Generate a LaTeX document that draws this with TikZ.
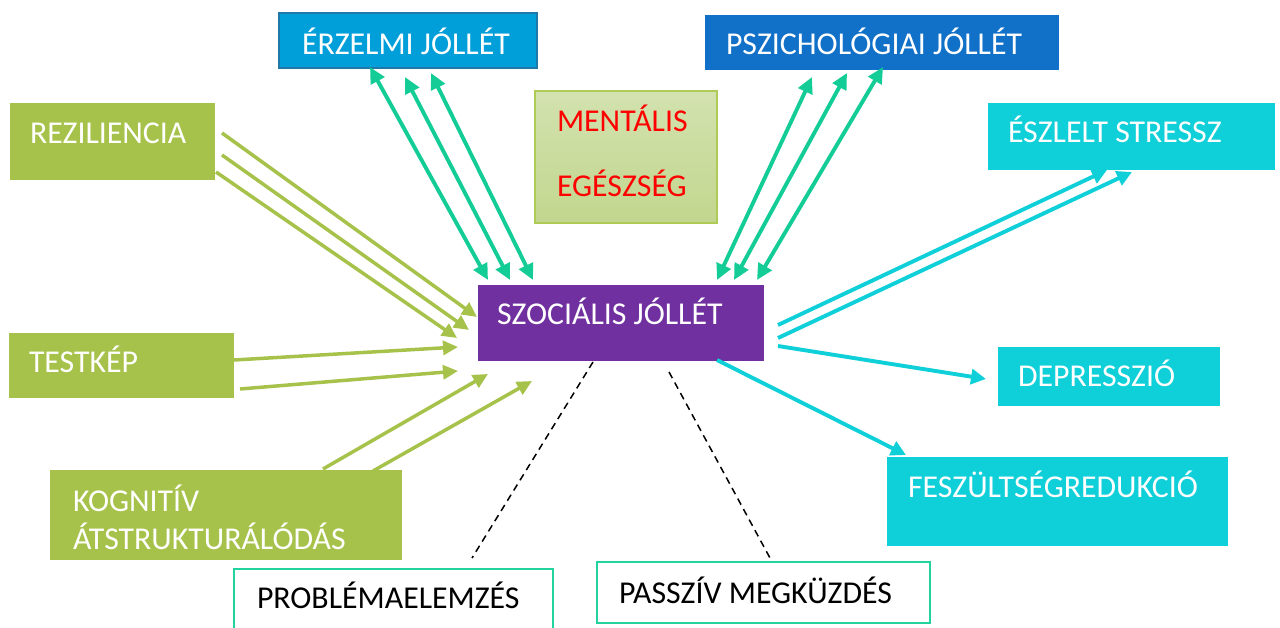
\documentclass[tikz,border=0pt]{standalone}
\usepackage{fontspec}
\setmainfont{Carlito}
\usetikzlibrary{arrows.meta}
\definecolor{erzfill}{HTML}{009FD9}
\definecolor{erzline}{HTML}{1E78A8}
\definecolor{pszfill}{HTML}{1170C7}
\definecolor{lime}{HTML}{A6C24A}
\definecolor{menttop}{HTML}{D3E2AF}
\definecolor{mentbot}{HTML}{C2D68E}
\definecolor{mentline}{HTML}{AECB55}
\definecolor{purp}{HTML}{7030A0}
\definecolor{cyanb}{HTML}{0FCFD9}
\definecolor{tealarr}{HTML}{14CC96}
\definecolor{tealbox}{HTML}{22D3A0}
\begin{document}
\begin{tikzpicture}[x=1pt,y=-1pt,
  box/.style={rectangle, inner sep=0pt, outer sep=0pt, anchor=north west},
  lbl/.style={anchor=base west, inner sep=0pt, outer sep=0pt, font=\fontsize{31.8}{38}\selectfont, text=white},
  blbl/.style={lbl, text=black},
  rlbl/.style={lbl, text=red},
  dblarr/.style={draw=tealarr, line width=3.9pt, {Triangle[length=16pt,width=15pt]}-{Triangle[length=16pt,width=15pt]}},
  limearr/.style={draw=lime, line width=3.5pt, -{Triangle[length=15pt,width=14pt]}},
  cyanarr/.style={draw=cyanb, line width=3.9pt, -{Triangle[length=15pt,width=15pt]}},
  dashln/.style={draw=black, line width=1.5pt, dash pattern=on 7pt off 5pt}
]
\useasboundingbox (0,0) rectangle (1280,628);

% boxes
\node[box, fill=erzfill, draw=erzline, line width=1.5pt, minimum width=258, minimum height=55] (erz) at (279,13) {};
\node[lbl] (erzT) at (302,55) {ÉRZELMI JÓLLÉT};
\node[box, fill=pszfill, minimum width=354, minimum height=55] (psz) at (705,15) {};
\node[lbl] (pszT) at (726,55) {PSZICHOLÓGIAI JÓLLÉT};
\node[box, top color=menttop, bottom color=mentbot, draw=mentline, line width=1.2pt, minimum width=182, minimum height=132] (ment) at (535,91) {};
\node[rlbl] (mentT1) at (557,132) {MENTÁLIS};
\node[rlbl] (mentT2) at (557,197) {EGÉSZSÉG};
\node[box, fill=lime, minimum width=205, minimum height=77] (rez) at (10,103) {};
\node[lbl] (rezT) at (30,144) {REZILIENCIA};
\node[box, fill=lime, minimum width=225, minimum height=65] (test) at (9,333) {};
\node[lbl] (testT) at (29,373) {TESTKÉP};
\node[box, fill=lime, minimum width=352, minimum height=90] (kogn) at (50,470) {};
\node[lbl] (kognT1) at (73,511) {KOGNITÍV};
\node[lbl] (kognT2) at (73,549) {ÁTSTRUKTURÁLÓDÁS};
\node[box, fill=purp, minimum width=286, minimum height=76] (szoc) at (478,285) {};
\node[lbl] (szocT) at (497,325) {SZOCIÁLIS JÓLLÉT};
\node[box, fill=cyanb, minimum width=287, minimum height=67] (eszl) at (988,103) {};
\node[lbl] (eszlT) at (1008,143) {ÉSZLELT STRESSZ};
\node[box, fill=cyanb, minimum width=222, minimum height=59] (dep) at (998,347) {};
\node[lbl] (depT) at (1018,386) {DEPRESSZIÓ};
\node[box, fill=cyanb, minimum width=341, minimum height=89] (fesz) at (887,457) {};
\node[lbl] (feszT) at (908,497) {FESZÜLTSÉGREDUKCIÓ};
\node[box, fill=white, draw=tealbox, line width=2pt, minimum width=319, minimum height=80] (prob) at (234,569) {};
\node[blbl] (probT) at (257,608) {PROBLÉMAELEMZÉS};
\node[box, fill=white, draw=tealbox, line width=2pt, minimum width=333, minimum height=61] (pass) at (597,562) {};
\node[blbl] (passT) at (619,603) {PASSZÍV MEGKÜZDÉS};

% connector end points
\coordinate (e1a) at (370,67);  \coordinate (e1b) at (488,280);
\coordinate (e2a) at (405,77);  \coordinate (e2b) at (510,280);
\coordinate (e3a) at (431,73);  \coordinate (e3b) at (533,280);
\coordinate (p1a) at (812,77);  \coordinate (p1b) at (717,280);
\coordinate (p2a) at (847,73);  \coordinate (p2b) at (734,280);
\coordinate (p3a) at (883,67);  \coordinate (p3b) at (757,280);
\coordinate (r1a) at (222,133); \coordinate (r1b) at (477,317);
\coordinate (r2a) at (222,155); \coordinate (r2b) at (469,330);
\coordinate (r3a) at (216,172); \coordinate (r3b) at (457,338);
\coordinate (t1a) at (234,360); \coordinate (t1b) at (458,347);
\coordinate (t2a) at (240,389); \coordinate (t2b) at (458,371);
\coordinate (k1a) at (323,469); \coordinate (k1b) at (488,374);
\coordinate (k2a) at (373,471); \coordinate (k2b) at (532,381);
\coordinate (s1a) at (778,325); \coordinate (s1b) at (1107,170);
\coordinate (s2a) at (778,338); \coordinate (s2b) at (1132,172);
\coordinate (da)  at (778,346); \coordinate (db)  at (986,379);
\coordinate (fa)  at (717,360); \coordinate (fb)  at (906,455);
\coordinate (pra) at (593,362); \coordinate (prb) at (472,558);
\coordinate (paa) at (669,372); \coordinate (pab) at (770,558);

% connectors
\draw[dblarr] (e1a) -- (e1b);
\draw[dblarr] (e2a) -- (e2b);
\draw[dblarr] (e3a) -- (e3b);
\draw[dblarr] (p1a) -- (p1b);
\draw[dblarr] (p2a) -- (p2b);
\draw[dblarr] (p3a) -- (p3b);
\draw[limearr] (r1a) -- (r1b);
\draw[limearr] (r2a) -- (r2b);
\draw[limearr] (r3a) -- (r3b);
\draw[limearr] (t1a) -- (t1b);
\draw[limearr] (t2a) -- (t2b);
\draw[limearr] (k1a) -- (k1b);
\draw[limearr] (k2a) -- (k2b);
\draw[cyanarr] (s1a) -- (s1b);
\draw[cyanarr] (s2a) -- (s2b);
\draw[cyanarr] (da) -- (db);
\draw[cyanarr] (fa) -- (fb);
\draw[dashln] (pra) -- (prb);
\draw[dashln] (paa) -- (pab);
\end{tikzpicture}
\end{document}
